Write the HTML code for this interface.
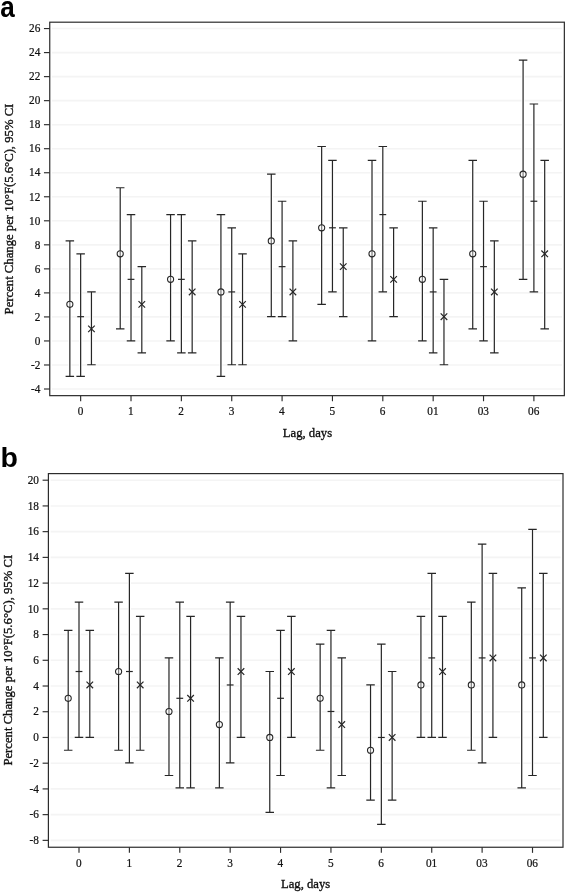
<!DOCTYPE html>
<html><head><meta charset="utf-8"><title>chart</title>
<style>html,body{margin:0;padding:0;background:#fff}svg{display:block;will-change:transform}</style></head>
<body>
<svg width="567" height="893" viewBox="0 0 567 893">
<rect width="567" height="893" fill="#fff"/>
<g stroke="#f4f4f4" stroke-width="1.6">
<line x1="51.95" x2="561.95" y1="389.01" y2="389.01"/>
<line x1="51.95" x2="561.95" y1="364.98" y2="364.98"/>
<line x1="51.95" x2="561.95" y1="340.95" y2="340.95"/>
<line x1="51.95" x2="561.95" y1="316.92" y2="316.92"/>
<line x1="51.95" x2="561.95" y1="292.89" y2="292.89"/>
<line x1="51.95" x2="561.95" y1="268.86" y2="268.86"/>
<line x1="51.95" x2="561.95" y1="244.83" y2="244.83"/>
<line x1="51.95" x2="561.95" y1="220.80" y2="220.80"/>
<line x1="51.95" x2="561.95" y1="196.77" y2="196.77"/>
<line x1="51.95" x2="561.95" y1="172.74" y2="172.74"/>
<line x1="51.95" x2="561.95" y1="148.71" y2="148.71"/>
<line x1="51.95" x2="561.95" y1="124.68" y2="124.68"/>
<line x1="51.95" x2="561.95" y1="100.65" y2="100.65"/>
<line x1="51.95" x2="561.95" y1="76.62" y2="76.62"/>
<line x1="51.95" x2="561.95" y1="52.59" y2="52.59"/>
<line x1="51.95" x2="561.95" y1="28.56" y2="28.56"/>
</g>
<rect x="49.75" y="22.20" width="514.60" height="373.45" fill="none" stroke="#2c2c2c" stroke-width="1.2"/>
<g stroke="#2c2c2c" stroke-width="1.15">
<line x1="43.95" x2="49.75" y1="389.01" y2="389.01"/>
<line x1="43.95" x2="49.75" y1="364.98" y2="364.98"/>
<line x1="43.95" x2="49.75" y1="340.95" y2="340.95"/>
<line x1="43.95" x2="49.75" y1="316.92" y2="316.92"/>
<line x1="43.95" x2="49.75" y1="292.89" y2="292.89"/>
<line x1="43.95" x2="49.75" y1="268.86" y2="268.86"/>
<line x1="43.95" x2="49.75" y1="244.83" y2="244.83"/>
<line x1="43.95" x2="49.75" y1="220.80" y2="220.80"/>
<line x1="43.95" x2="49.75" y1="196.77" y2="196.77"/>
<line x1="43.95" x2="49.75" y1="172.74" y2="172.74"/>
<line x1="43.95" x2="49.75" y1="148.71" y2="148.71"/>
<line x1="43.95" x2="49.75" y1="124.68" y2="124.68"/>
<line x1="43.95" x2="49.75" y1="100.65" y2="100.65"/>
<line x1="43.95" x2="49.75" y1="76.62" y2="76.62"/>
<line x1="43.95" x2="49.75" y1="52.59" y2="52.59"/>
<line x1="43.95" x2="49.75" y1="28.56" y2="28.56"/>
<line x1="80.65" x2="80.65" y1="395.65" y2="401.25"/>
<line x1="131.01" x2="131.01" y1="395.65" y2="401.25"/>
<line x1="181.37" x2="181.37" y1="395.65" y2="401.25"/>
<line x1="231.73" x2="231.73" y1="395.65" y2="401.25"/>
<line x1="282.09" x2="282.09" y1="395.65" y2="401.25"/>
<line x1="332.45" x2="332.45" y1="395.65" y2="401.25"/>
<line x1="382.81" x2="382.81" y1="395.65" y2="401.25"/>
<line x1="433.17" x2="433.17" y1="395.65" y2="401.25"/>
<line x1="483.53" x2="483.53" y1="395.65" y2="401.25"/>
<line x1="533.89" x2="533.89" y1="395.65" y2="401.25"/>
</g>
<g font-family="Liberation Serif, serif" font-size="11.3" fill="#111" stroke="#111" stroke-width="0.2">
<text transform="translate(40.30,392.76) scale(1,1.170)" text-anchor="end">-4</text>
<text transform="translate(40.30,368.73) scale(1,1.170)" text-anchor="end">-2</text>
<text transform="translate(40.30,344.70) scale(1,1.170)" text-anchor="end">0</text>
<text transform="translate(40.30,320.67) scale(1,1.170)" text-anchor="end">2</text>
<text transform="translate(40.30,296.64) scale(1,1.170)" text-anchor="end">4</text>
<text transform="translate(40.30,272.61) scale(1,1.170)" text-anchor="end">6</text>
<text transform="translate(40.30,248.58) scale(1,1.170)" text-anchor="end">8</text>
<text transform="translate(40.30,224.55) scale(1,1.170)" text-anchor="end">10</text>
<text transform="translate(40.30,200.52) scale(1,1.170)" text-anchor="end">12</text>
<text transform="translate(40.30,176.49) scale(1,1.170)" text-anchor="end">14</text>
<text transform="translate(40.30,152.46) scale(1,1.170)" text-anchor="end">16</text>
<text transform="translate(40.30,128.43) scale(1,1.170)" text-anchor="end">18</text>
<text transform="translate(40.30,104.40) scale(1,1.170)" text-anchor="end">20</text>
<text transform="translate(40.30,80.37) scale(1,1.170)" text-anchor="end">22</text>
<text transform="translate(40.30,56.34) scale(1,1.170)" text-anchor="end">24</text>
<text transform="translate(40.30,32.31) scale(1,1.170)" text-anchor="end">26</text>
<text transform="translate(80.45,415.10) scale(1,1.170)" text-anchor="middle">0</text>
<text transform="translate(130.81,415.10) scale(1,1.170)" text-anchor="middle">1</text>
<text transform="translate(181.17,415.10) scale(1,1.170)" text-anchor="middle">2</text>
<text transform="translate(231.53,415.10) scale(1,1.170)" text-anchor="middle">3</text>
<text transform="translate(281.89,415.10) scale(1,1.170)" text-anchor="middle">4</text>
<text transform="translate(332.25,415.10) scale(1,1.170)" text-anchor="middle">5</text>
<text transform="translate(382.61,415.10) scale(1,1.170)" text-anchor="middle">6</text>
<text transform="translate(432.97,415.10) scale(1,1.170)" text-anchor="middle">01</text>
<text transform="translate(483.33,415.10) scale(1,1.170)" text-anchor="middle">03</text>
<text transform="translate(533.69,415.10) scale(1,1.170)" text-anchor="middle">06</text>
</g>
<g font-family="Liberation Serif, serif" font-size="12.7" fill="#111" stroke="#111" stroke-width="0.35">
<text transform="translate(307.45,436.90) scale(1,1.060)" text-anchor="middle">Lag, days</text>
<text transform="translate(13.00,209.02) rotate(-90) scale(1,1.060)" text-anchor="middle">Percent Change per 10°F(5.6°C), 95% CI</text>
</g>
<text transform="translate(0.20,16.50) scale(0.900,1)" font-family="Liberation Sans, sans-serif" font-weight="bold" font-size="29.0" fill="#000">a</text>
<g stroke="#fff" stroke-width="3.2" fill="none">
<path d="M69.85 240.88V376.46"/>
<path d="M80.65 253.83V376.46"/>
<path d="M91.45 291.92V364.74"/>
<path d="M120.21 187.76V328.87"/>
<path d="M131.01 214.59V340.95"/>
<path d="M141.81 266.65V352.91"/>
<path d="M170.57 214.59V340.95"/>
<path d="M181.37 214.59V352.91"/>
<path d="M192.17 240.88V352.91"/>
<path d="M220.93 214.59V376.46"/>
<path d="M231.73 227.80V364.74"/>
<path d="M242.53 253.83V364.74"/>
<path d="M271.29 174.15V316.68"/>
<path d="M282.09 201.24V316.68"/>
<path d="M292.89 240.88V340.95"/>
<path d="M321.65 146.51V304.36"/>
<path d="M332.45 160.40V291.92"/>
<path d="M343.25 227.80V316.68"/>
<path d="M372.01 160.40V340.95"/>
<path d="M382.81 146.51V291.92"/>
<path d="M393.61 227.80V316.68"/>
<path d="M422.37 201.24V340.95"/>
<path d="M433.17 227.80V352.91"/>
<path d="M443.97 279.35V364.74"/>
<path d="M472.73 160.40V328.87"/>
<path d="M483.53 201.24V340.95"/>
<path d="M494.33 240.88V352.91"/>
<path d="M523.09 60.19V279.35"/>
<path d="M533.89 103.99V291.92"/>
<path d="M544.69 160.40V328.87"/>
</g>
<g stroke="#262626" stroke-width="1.2" fill="none">
<path d="M69.85 240.88V376.46M65.60 240.88H74.10M65.60 376.46H74.10"/>
<circle cx="69.85" cy="304.36" r="3.05" stroke-width="1.1" fill="#fff" fill-opacity="0.4"/>
<path d="M80.65 253.83V376.46M76.40 253.83H84.90M76.40 376.46H84.90"/>
<path d="M77.25 316.68H84.05"/>
<path d="M91.45 291.92V364.74M87.20 291.92H95.70M87.20 364.74H95.70"/>
<path d="M88.15 325.57L94.75 332.17M88.15 332.17L94.75 325.57"/>
<path d="M120.21 187.76V328.87M115.96 187.76H124.46M115.96 328.87H124.46"/>
<circle cx="120.21" cy="253.83" r="3.05" stroke-width="1.1" fill="#fff" fill-opacity="0.4"/>
<path d="M131.01 214.59V340.95M126.76 214.59H135.26M126.76 340.95H135.26"/>
<path d="M127.61 279.35H134.41"/>
<path d="M141.81 266.65V352.91M137.56 266.65H146.06M137.56 352.91H146.06"/>
<path d="M138.51 301.06L145.11 307.66M138.51 307.66L145.11 301.06"/>
<path d="M170.57 214.59V340.95M166.32 214.59H174.82M166.32 340.95H174.82"/>
<circle cx="170.57" cy="279.35" r="3.05" stroke-width="1.1" fill="#fff" fill-opacity="0.4"/>
<path d="M181.37 214.59V352.91M177.12 214.59H185.62M177.12 352.91H185.62"/>
<path d="M177.97 279.35H184.77"/>
<path d="M192.17 240.88V352.91M187.92 240.88H196.42M187.92 352.91H196.42"/>
<path d="M188.87 288.62L195.47 295.22M188.87 295.22L195.47 288.62"/>
<path d="M220.93 214.59V376.46M216.68 214.59H225.18M216.68 376.46H225.18"/>
<circle cx="220.93" cy="291.92" r="3.05" stroke-width="1.1" fill="#fff" fill-opacity="0.4"/>
<path d="M231.73 227.80V364.74M227.48 227.80H235.98M227.48 364.74H235.98"/>
<path d="M228.33 291.92H235.13"/>
<path d="M242.53 253.83V364.74M238.28 253.83H246.78M238.28 364.74H246.78"/>
<path d="M239.23 301.06L245.83 307.66M239.23 307.66L245.83 301.06"/>
<path d="M271.29 174.15V316.68M267.04 174.15H275.54M267.04 316.68H275.54"/>
<circle cx="271.29" cy="240.88" r="3.05" stroke-width="1.1" fill="#fff" fill-opacity="0.4"/>
<path d="M282.09 201.24V316.68M277.84 201.24H286.34M277.84 316.68H286.34"/>
<path d="M278.69 266.65H285.49"/>
<path d="M292.89 240.88V340.95M288.64 240.88H297.14M288.64 340.95H297.14"/>
<path d="M289.59 288.62L296.19 295.22M289.59 295.22L296.19 288.62"/>
<path d="M321.65 146.51V304.36M317.40 146.51H325.90M317.40 304.36H325.90"/>
<circle cx="321.65" cy="227.80" r="3.05" stroke-width="1.1" fill="#fff" fill-opacity="0.4"/>
<path d="M332.45 160.40V291.92M328.20 160.40H336.70M328.20 291.92H336.70"/>
<path d="M329.05 227.80H335.85"/>
<path d="M343.25 227.80V316.68M339.00 227.80H347.50M339.00 316.68H347.50"/>
<path d="M339.95 263.35L346.55 269.95M339.95 269.95L346.55 263.35"/>
<path d="M372.01 160.40V340.95M367.76 160.40H376.26M367.76 340.95H376.26"/>
<circle cx="372.01" cy="253.83" r="3.05" stroke-width="1.1" fill="#fff" fill-opacity="0.4"/>
<path d="M382.81 146.51V291.92M378.56 146.51H387.06M378.56 291.92H387.06"/>
<path d="M379.41 214.59H386.21"/>
<path d="M393.61 227.80V316.68M389.36 227.80H397.86M389.36 316.68H397.86"/>
<path d="M390.31 276.05L396.91 282.65M390.31 282.65L396.91 276.05"/>
<path d="M422.37 201.24V340.95M418.12 201.24H426.62M418.12 340.95H426.62"/>
<circle cx="422.37" cy="279.35" r="3.05" stroke-width="1.1" fill="#fff" fill-opacity="0.4"/>
<path d="M433.17 227.80V352.91M428.92 227.80H437.42M428.92 352.91H437.42"/>
<path d="M429.77 291.92H436.57"/>
<path d="M443.97 279.35V364.74M439.72 279.35H448.22M439.72 364.74H448.22"/>
<path d="M440.67 313.38L447.27 319.98M440.67 319.98L447.27 313.38"/>
<path d="M472.73 160.40V328.87M468.48 160.40H476.98M468.48 328.87H476.98"/>
<circle cx="472.73" cy="253.83" r="3.05" stroke-width="1.1" fill="#fff" fill-opacity="0.4"/>
<path d="M483.53 201.24V340.95M479.28 201.24H487.78M479.28 340.95H487.78"/>
<path d="M480.13 266.65H486.93"/>
<path d="M494.33 240.88V352.91M490.08 240.88H498.58M490.08 352.91H498.58"/>
<path d="M491.03 288.62L497.63 295.22M491.03 295.22L497.63 288.62"/>
<path d="M523.09 60.19V279.35M518.84 60.19H527.34M518.84 279.35H527.34"/>
<circle cx="523.09" cy="174.15" r="3.05" stroke-width="1.1" fill="#fff" fill-opacity="0.4"/>
<path d="M533.89 103.99V291.92M529.64 103.99H538.14M529.64 291.92H538.14"/>
<path d="M530.49 201.24H537.29"/>
<path d="M544.69 160.40V328.87M540.44 160.40H548.94M540.44 328.87H548.94"/>
<path d="M541.39 250.53L547.99 257.13M541.39 257.13L547.99 250.53"/>
</g>
<g stroke="#f4f4f4" stroke-width="1.6">
<line x1="50.60" x2="560.60" y1="840.36" y2="840.36"/>
<line x1="50.60" x2="560.60" y1="814.64" y2="814.64"/>
<line x1="50.60" x2="560.60" y1="788.91" y2="788.91"/>
<line x1="50.60" x2="560.60" y1="763.19" y2="763.19"/>
<line x1="50.60" x2="560.60" y1="737.46" y2="737.46"/>
<line x1="50.60" x2="560.60" y1="711.73" y2="711.73"/>
<line x1="50.60" x2="560.60" y1="686.01" y2="686.01"/>
<line x1="50.60" x2="560.60" y1="660.28" y2="660.28"/>
<line x1="50.60" x2="560.60" y1="634.56" y2="634.56"/>
<line x1="50.60" x2="560.60" y1="608.83" y2="608.83"/>
<line x1="50.60" x2="560.60" y1="583.10" y2="583.10"/>
<line x1="50.60" x2="560.60" y1="557.38" y2="557.38"/>
<line x1="50.60" x2="560.60" y1="531.65" y2="531.65"/>
<line x1="50.60" x2="560.60" y1="505.93" y2="505.93"/>
<line x1="50.60" x2="560.60" y1="480.20" y2="480.20"/>
</g>
<rect x="48.40" y="473.60" width="514.60" height="373.65" fill="none" stroke="#2c2c2c" stroke-width="1.2"/>
<g stroke="#2c2c2c" stroke-width="1.15">
<line x1="42.60" x2="48.40" y1="840.36" y2="840.36"/>
<line x1="42.60" x2="48.40" y1="814.64" y2="814.64"/>
<line x1="42.60" x2="48.40" y1="788.91" y2="788.91"/>
<line x1="42.60" x2="48.40" y1="763.19" y2="763.19"/>
<line x1="42.60" x2="48.40" y1="737.46" y2="737.46"/>
<line x1="42.60" x2="48.40" y1="711.73" y2="711.73"/>
<line x1="42.60" x2="48.40" y1="686.01" y2="686.01"/>
<line x1="42.60" x2="48.40" y1="660.28" y2="660.28"/>
<line x1="42.60" x2="48.40" y1="634.56" y2="634.56"/>
<line x1="42.60" x2="48.40" y1="608.83" y2="608.83"/>
<line x1="42.60" x2="48.40" y1="583.10" y2="583.10"/>
<line x1="42.60" x2="48.40" y1="557.38" y2="557.38"/>
<line x1="42.60" x2="48.40" y1="531.65" y2="531.65"/>
<line x1="42.60" x2="48.40" y1="505.93" y2="505.93"/>
<line x1="42.60" x2="48.40" y1="480.20" y2="480.20"/>
<line x1="79.00" x2="79.00" y1="847.25" y2="852.85"/>
<line x1="129.39" x2="129.39" y1="847.25" y2="852.85"/>
<line x1="179.78" x2="179.78" y1="847.25" y2="852.85"/>
<line x1="230.17" x2="230.17" y1="847.25" y2="852.85"/>
<line x1="280.56" x2="280.56" y1="847.25" y2="852.85"/>
<line x1="330.95" x2="330.95" y1="847.25" y2="852.85"/>
<line x1="381.34" x2="381.34" y1="847.25" y2="852.85"/>
<line x1="431.73" x2="431.73" y1="847.25" y2="852.85"/>
<line x1="482.12" x2="482.12" y1="847.25" y2="852.85"/>
<line x1="532.51" x2="532.51" y1="847.25" y2="852.85"/>
</g>
<g font-family="Liberation Serif, serif" font-size="11.3" fill="#111" stroke="#111" stroke-width="0.2">
<text transform="translate(38.95,844.11) scale(1,1.170)" text-anchor="end">-8</text>
<text transform="translate(38.95,818.39) scale(1,1.170)" text-anchor="end">-6</text>
<text transform="translate(38.95,792.66) scale(1,1.170)" text-anchor="end">-4</text>
<text transform="translate(38.95,766.94) scale(1,1.170)" text-anchor="end">-2</text>
<text transform="translate(38.95,741.21) scale(1,1.170)" text-anchor="end">0</text>
<text transform="translate(38.95,715.48) scale(1,1.170)" text-anchor="end">2</text>
<text transform="translate(38.95,689.76) scale(1,1.170)" text-anchor="end">4</text>
<text transform="translate(38.95,664.03) scale(1,1.170)" text-anchor="end">6</text>
<text transform="translate(38.95,638.31) scale(1,1.170)" text-anchor="end">8</text>
<text transform="translate(38.95,612.58) scale(1,1.170)" text-anchor="end">10</text>
<text transform="translate(38.95,586.85) scale(1,1.170)" text-anchor="end">12</text>
<text transform="translate(38.95,561.13) scale(1,1.170)" text-anchor="end">14</text>
<text transform="translate(38.95,535.40) scale(1,1.170)" text-anchor="end">16</text>
<text transform="translate(38.95,509.68) scale(1,1.170)" text-anchor="end">18</text>
<text transform="translate(38.95,483.95) scale(1,1.170)" text-anchor="end">20</text>
<text transform="translate(78.80,867.00) scale(1,1.170)" text-anchor="middle">0</text>
<text transform="translate(129.19,867.00) scale(1,1.170)" text-anchor="middle">1</text>
<text transform="translate(179.58,867.00) scale(1,1.170)" text-anchor="middle">2</text>
<text transform="translate(229.97,867.00) scale(1,1.170)" text-anchor="middle">3</text>
<text transform="translate(280.36,867.00) scale(1,1.170)" text-anchor="middle">4</text>
<text transform="translate(330.75,867.00) scale(1,1.170)" text-anchor="middle">5</text>
<text transform="translate(381.14,867.00) scale(1,1.170)" text-anchor="middle">6</text>
<text transform="translate(431.53,867.00) scale(1,1.170)" text-anchor="middle">01</text>
<text transform="translate(481.92,867.00) scale(1,1.170)" text-anchor="middle">03</text>
<text transform="translate(532.31,867.00) scale(1,1.170)" text-anchor="middle">06</text>
</g>
<g font-family="Liberation Serif, serif" font-size="12.7" fill="#111" stroke="#111" stroke-width="0.35">
<text transform="translate(305.60,888.30) scale(1,1.060)" text-anchor="middle">Lag, days</text>
<text transform="translate(11.60,660.22) rotate(-90) scale(1,1.060)" text-anchor="middle">Percent Change per 10°F(5.6°C), 95% CI</text>
</g>
<text transform="translate(0.40,467.40) scale(1.000,1)" font-family="Liberation Sans, sans-serif" font-weight="bold" font-size="28.5" fill="#000">b</text>
<g stroke="#fff" stroke-width="3.2" fill="none">
<path d="M68.20 630.33V750.26"/>
<path d="M79.00 602.18V737.46"/>
<path d="M89.80 630.33V737.46"/>
<path d="M118.59 602.18V750.26"/>
<path d="M129.39 573.46V762.93"/>
<path d="M140.19 616.32V750.26"/>
<path d="M168.98 657.92V775.48"/>
<path d="M179.78 602.18V787.90"/>
<path d="M190.58 616.32V787.90"/>
<path d="M219.37 657.92V787.90"/>
<path d="M230.17 602.18V762.93"/>
<path d="M240.97 616.32V737.46"/>
<path d="M269.76 671.51V812.37"/>
<path d="M280.56 630.33V775.48"/>
<path d="M291.36 616.32V737.46"/>
<path d="M320.15 644.19V750.26"/>
<path d="M330.95 630.33V787.90"/>
<path d="M341.75 657.92V775.48"/>
<path d="M370.54 684.97V800.19"/>
<path d="M381.34 644.19V824.42"/>
<path d="M392.14 671.51V800.19"/>
<path d="M420.93 616.32V737.46"/>
<path d="M431.73 573.46V737.46"/>
<path d="M442.53 616.32V737.46"/>
<path d="M471.32 602.18V750.26"/>
<path d="M482.12 544.16V762.93"/>
<path d="M492.92 573.46V737.46"/>
<path d="M521.71 587.89V787.90"/>
<path d="M532.51 529.29V775.48"/>
<path d="M543.31 573.46V737.46"/>
</g>
<g stroke="#262626" stroke-width="1.2" fill="none">
<path d="M68.20 630.33V750.26M63.95 630.33H72.45M63.95 750.26H72.45"/>
<circle cx="68.20" cy="698.29" r="3.05" stroke-width="1.1" fill="#fff" fill-opacity="0.4"/>
<path d="M79.00 602.18V737.46M74.75 602.18H83.25M74.75 737.46H83.25"/>
<path d="M75.60 671.51H82.40"/>
<path d="M89.80 630.33V737.46M85.55 630.33H94.05M85.55 737.46H94.05"/>
<path d="M86.50 681.67L93.10 688.27M86.50 688.27L93.10 681.67"/>
<path d="M118.59 602.18V750.26M114.34 602.18H122.84M114.34 750.26H122.84"/>
<circle cx="118.59" cy="671.51" r="3.05" stroke-width="1.1" fill="#fff" fill-opacity="0.4"/>
<path d="M129.39 573.46V762.93M125.14 573.46H133.64M125.14 762.93H133.64"/>
<path d="M125.99 671.51H132.79"/>
<path d="M140.19 616.32V750.26M135.94 616.32H144.44M135.94 750.26H144.44"/>
<path d="M136.89 681.67L143.49 688.27M136.89 688.27L143.49 681.67"/>
<path d="M168.98 657.92V775.48M164.73 657.92H173.23M164.73 775.48H173.23"/>
<circle cx="168.98" cy="711.48" r="3.05" stroke-width="1.1" fill="#fff" fill-opacity="0.4"/>
<path d="M179.78 602.18V787.90M175.53 602.18H184.03M175.53 787.90H184.03"/>
<path d="M176.38 698.29H183.18"/>
<path d="M190.58 616.32V787.90M186.33 616.32H194.83M186.33 787.90H194.83"/>
<path d="M187.28 694.99L193.88 701.59M187.28 701.59L193.88 694.99"/>
<path d="M219.37 657.92V787.90M215.12 657.92H223.62M215.12 787.90H223.62"/>
<circle cx="219.37" cy="724.53" r="3.05" stroke-width="1.1" fill="#fff" fill-opacity="0.4"/>
<path d="M230.17 602.18V762.93M225.92 602.18H234.42M225.92 762.93H234.42"/>
<path d="M226.77 684.97H233.57"/>
<path d="M240.97 616.32V737.46M236.72 616.32H245.22M236.72 737.46H245.22"/>
<path d="M237.67 668.21L244.27 674.81M237.67 674.81L244.27 668.21"/>
<path d="M269.76 671.51V812.37M265.51 671.51H274.01M265.51 812.37H274.01"/>
<circle cx="269.76" cy="737.46" r="3.05" stroke-width="1.1" fill="#fff" fill-opacity="0.4"/>
<path d="M280.56 630.33V775.48M276.31 630.33H284.81M276.31 775.48H284.81"/>
<path d="M277.16 698.29H283.96"/>
<path d="M291.36 616.32V737.46M287.11 616.32H295.61M287.11 737.46H295.61"/>
<path d="M288.06 668.21L294.66 674.81M288.06 674.81L294.66 668.21"/>
<path d="M320.15 644.19V750.26M315.90 644.19H324.40M315.90 750.26H324.40"/>
<circle cx="320.15" cy="698.29" r="3.05" stroke-width="1.1" fill="#fff" fill-opacity="0.4"/>
<path d="M330.95 630.33V787.90M326.70 630.33H335.20M326.70 787.90H335.20"/>
<path d="M327.55 711.48H334.35"/>
<path d="M341.75 657.92V775.48M337.50 657.92H346.00M337.50 775.48H346.00"/>
<path d="M338.45 721.23L345.05 727.83M338.45 727.83L345.05 721.23"/>
<path d="M370.54 684.97V800.19M366.29 684.97H374.79M366.29 800.19H374.79"/>
<circle cx="370.54" cy="750.26" r="3.05" stroke-width="1.1" fill="#fff" fill-opacity="0.4"/>
<path d="M381.34 644.19V824.42M377.09 644.19H385.59M377.09 824.42H385.59"/>
<path d="M377.94 737.46H384.74"/>
<path d="M392.14 671.51V800.19M387.89 671.51H396.39M387.89 800.19H396.39"/>
<path d="M388.84 734.16L395.44 740.76M388.84 740.76L395.44 734.16"/>
<path d="M420.93 616.32V737.46M416.68 616.32H425.18M416.68 737.46H425.18"/>
<circle cx="420.93" cy="684.97" r="3.05" stroke-width="1.1" fill="#fff" fill-opacity="0.4"/>
<path d="M431.73 573.46V737.46M427.48 573.46H435.98M427.48 737.46H435.98"/>
<path d="M428.33 657.92H435.13"/>
<path d="M442.53 616.32V737.46M438.28 616.32H446.78M438.28 737.46H446.78"/>
<path d="M439.23 668.21L445.83 674.81M439.23 674.81L445.83 668.21"/>
<path d="M471.32 602.18V750.26M467.07 602.18H475.57M467.07 750.26H475.57"/>
<circle cx="471.32" cy="684.97" r="3.05" stroke-width="1.1" fill="#fff" fill-opacity="0.4"/>
<path d="M482.12 544.16V762.93M477.87 544.16H486.37M477.87 762.93H486.37"/>
<path d="M478.72 657.92H485.52"/>
<path d="M492.92 573.46V737.46M488.67 573.46H497.17M488.67 737.46H497.17"/>
<path d="M489.62 654.62L496.22 661.22M489.62 661.22L496.22 654.62"/>
<path d="M521.71 587.89V787.90M517.46 587.89H525.96M517.46 787.90H525.96"/>
<circle cx="521.71" cy="684.97" r="3.05" stroke-width="1.1" fill="#fff" fill-opacity="0.4"/>
<path d="M532.51 529.29V775.48M528.26 529.29H536.76M528.26 775.48H536.76"/>
<path d="M529.11 657.92H535.91"/>
<path d="M543.31 573.46V737.46M539.06 573.46H547.56M539.06 737.46H547.56"/>
<path d="M540.01 654.62L546.61 661.22M540.01 661.22L546.61 654.62"/>
</g>
</svg>
</body></html>
